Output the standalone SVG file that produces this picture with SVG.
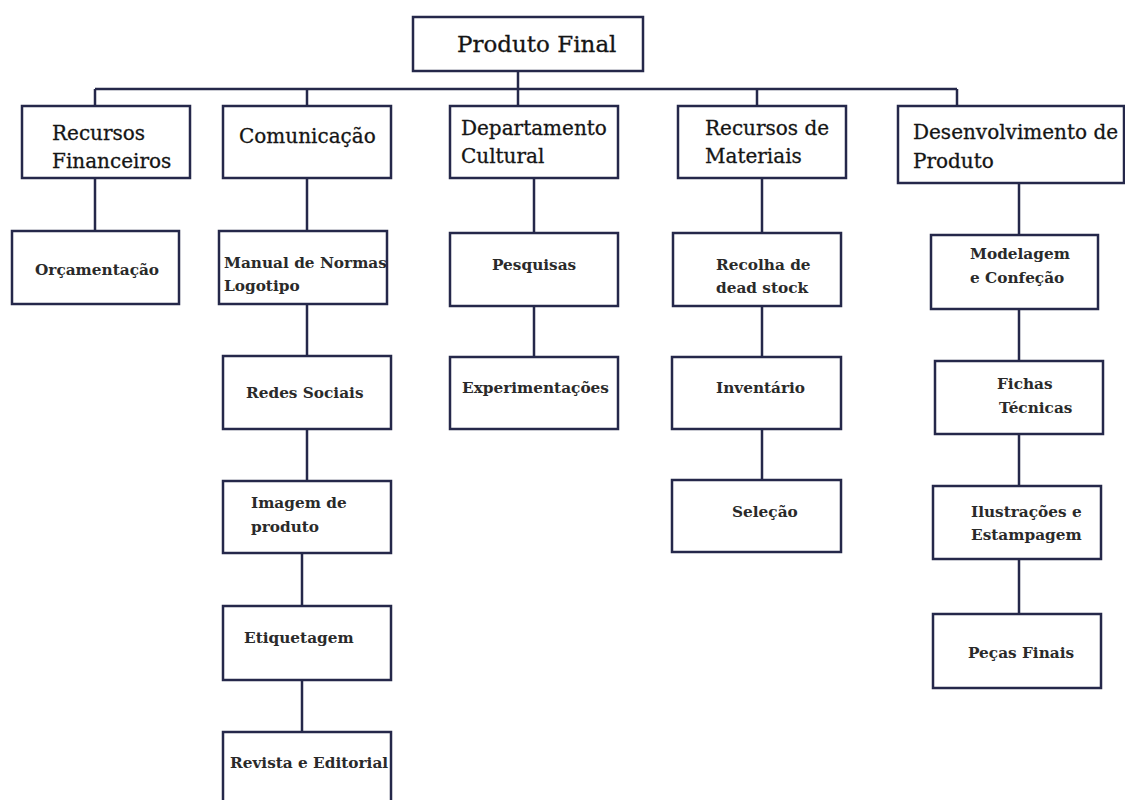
<svg xmlns="http://www.w3.org/2000/svg" width="1125" height="800" viewBox="0 0 1125 800">
<style>
.box{fill:#fff;stroke:#25284a;stroke-width:2.5}
.ln{fill:none;stroke:#25284a;stroke-width:2.5}
.t1{font-family:"DejaVu Serif","Liberation Serif",serif;font-size:20px;fill:#151515;stroke:#151515;stroke-width:0.3}
.t0{font-family:"DejaVu Serif","Liberation Serif",serif;font-size:23px;fill:#151515;stroke:#151515;stroke-width:0.3}
.t2{font-family:"DejaVu Serif","Liberation Serif",serif;font-size:15.3px;font-weight:bold;fill:#2a2a2a}
</style>
<rect width="1125" height="800" fill="#fff"/>
<g id="connectors">
<path class="ln" d="M95 89H957M95 89V106M307 89V106M518 71V106M757 89V106M957 89V106"/>
<path class="ln" d="M95 178V231M307 178V231M307 304V356M307 429V481M302 553V606M302 680V732"/>
<path class="ln" d="M534 178V233M534 306V357"/>
<path class="ln" d="M762 178V233M762 306V357M762 429V480"/>
<path class="ln" d="M1019 183V235M1019 309V361M1019 434V486M1019 559V614"/>
</g>
<g id="produto-final"><rect class="box" x="413" y="17" width="230" height="54"/><text class="t0" x="457" y="52">Produto Final</text></g>
<g id="recursos-financeiros"><rect class="box" x="22" y="106" width="168" height="72"/><text class="t1" x="52" y="140">Recursos</text><text class="t1" x="52" y="168">Financeiros</text></g>
<g id="comunicacao"><rect class="box" x="223" y="106" width="168" height="72"/><text class="t1" x="239" y="143">Comunicação</text></g>
<g id="departamento-cultural"><rect class="box" x="450" y="106" width="168" height="72"/><text class="t1" x="461" y="135">Departamento</text><text class="t1" x="461" y="163">Cultural</text></g>
<g id="recursos-materiais"><rect class="box" x="678" y="106" width="168" height="72"/><text class="t1" x="705" y="135">Recursos de</text><text class="t1" x="705" y="163">Materiais</text></g>
<g id="desenvolvimento-produto"><rect class="box" x="898" y="106" width="226" height="77"/><text class="t1" x="913" y="139">Desenvolvimento de</text><text class="t1" x="913" y="168">Produto</text></g>
<g id="orcamentacao"><rect class="box" x="12" y="231" width="167" height="73"/><text class="t2" x="35" y="275">Orçamentação</text></g>
<g id="manual-normas"><rect class="box" x="219" y="231" width="168" height="73"/><text class="t2" x="224" y="268">Manual de Normas</text><text class="t2" x="224" y="291">Logotipo</text></g>
<g id="redes-sociais"><rect class="box" x="223" y="356" width="168" height="73"/><text class="t2" x="246" y="398">Redes Sociais</text></g>
<g id="imagem-produto"><rect class="box" x="223" y="481" width="168" height="72"/><text class="t2" x="251" y="508">Imagem de</text><text class="t2" x="251" y="532">produto</text></g>
<g id="etiquetagem"><rect class="box" x="223" y="606" width="168" height="74"/><text class="t2" x="244" y="643">Etiquetagem</text></g>
<g id="revista-editorial"><rect class="box" x="223" y="732" width="168" height="80"/><text class="t2" x="230" y="768">Revista e Editorial</text></g>
<g id="pesquisas"><rect class="box" x="450" y="233" width="168" height="73"/><text class="t2" x="492" y="270">Pesquisas</text></g>
<g id="experimentacoes"><rect class="box" x="450" y="357" width="168" height="72"/><text class="t2" x="462" y="393">Experimentações</text></g>
<g id="recolha-dead-stock"><rect class="box" x="673" y="233" width="168" height="73"/><text class="t2" x="716" y="270">Recolha de</text><text class="t2" x="716" y="293">dead stock</text></g>
<g id="inventario"><rect class="box" x="672" y="357" width="169" height="72"/><text class="t2" x="716" y="393">Inventário</text></g>
<g id="selecao"><rect class="box" x="672" y="480" width="169" height="72"/><text class="t2" x="732" y="517">Seleção</text></g>
<g id="modelagem-confecao"><rect class="box" x="931" y="235" width="167" height="74"/><text class="t2" x="970" y="259">Modelagem</text><text class="t2" x="970" y="283">e Confeção</text></g>
<g id="fichas-tecnicas"><rect class="box" x="935" y="361" width="168" height="73"/><text class="t2" x="997" y="389">Fichas</text><text class="t2" x="999" y="413">Técnicas</text></g>
<g id="ilustracoes-estampagem"><rect class="box" x="933" y="486" width="168" height="73"/><text class="t2" x="971" y="517">Ilustrações e</text><text class="t2" x="971" y="540">Estampagem</text></g>
<g id="pecas-finais"><rect class="box" x="933" y="614" width="168" height="74"/><text class="t2" x="968" y="658">Peças Finais</text></g>
</svg>
